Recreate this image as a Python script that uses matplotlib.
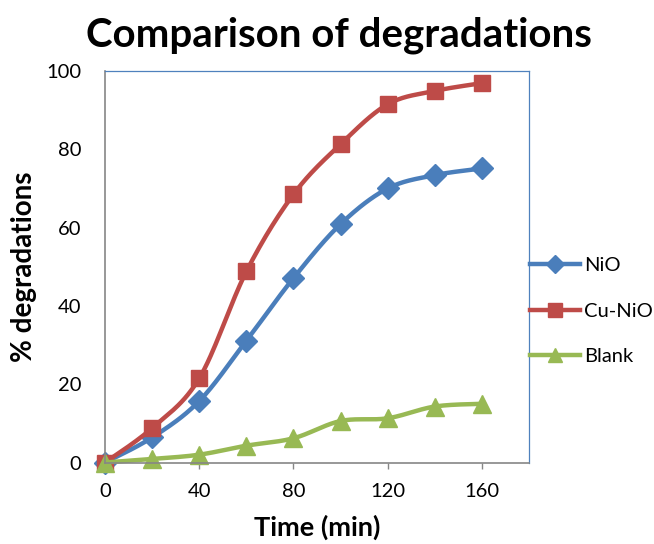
import numpy as np
import matplotlib
matplotlib.use('Agg')
import matplotlib.pyplot as plt

plt.rcParams['font.family'] = ['Lato', 'DejaVu Sans']

time_min = [0, 20, 40, 60, 80, 100, 120, 140, 160]
nio = [0, 6.4, 15.7, 31.1, 47.1, 60.9, 70.0, 73.4, 75.1]
cu_nio = [0, 8.8, 21.5, 48.8, 68.5, 81.3, 91.5, 94.9, 96.9]
blank = [0, 0.9, 2.0, 4.3, 6.2, 10.6, 11.3, 14.3, 15.0]
x_ticks = [0, 40, 80, 120, 160]
y_ticks = [0, 20, 40, 60, 80, 100]

BLUE = '#4A7EBB'
RED = '#BE4B48'
GREEN = '#98B954'
AXIS_GRAY = '#868686'


def smooth(xs, ys, sx, sy, steps=30):
    """Excel-like smoothed line (Catmull-Rom via Bezier), done in screen-ish units"""
    p = np.column_stack([np.asarray(xs, float) * sx, np.asarray(ys, float) * sy])
    n = len(p)
    out = []
    t = np.linspace(0, 1, steps)[:, None]
    for i in range(n - 1):
        p0 = p[i - 1] if i > 0 else p[i]
        p1 = p[i]
        p2 = p[i + 1]
        p3 = p[i + 2] if i + 2 < n else p[i + 1]
        c1 = p1 + (p2 - p0) / 6.0
        c2 = p2 - (p3 - p1) / 6.0
        seg = ((1 - t) ** 3) * p1 + 3 * ((1 - t) ** 2) * t * c1 + 3 * (1 - t) * t ** 2 * c2 + t ** 3 * p2
        out.append(seg if i == 0 else seg[1:])
    out = np.vstack(out)
    return out[:, 0] / sx, out[:, 1] / sy


fig = plt.figure(figsize=(6.54, 5.44), dpi=100)
ax = fig.add_axes([0.1606, 0.1498, 0.6483, 0.7197])

sx = 424.0 / 180
sy = 391.0 / 100
series = [
    ('NiO', nio, BLUE, 'D', 11),
    ('Cu-NiO', cu_nio, RED, 's', 12),
    ('Blank', blank, GREEN, '^', 13),
]
handles = []
for name, vals, col, mk, ms in series:
    xs, ys = smooth(time_min, vals, sx, sy)
    ax.plot(xs, ys, color=col, lw=3.2, solid_capstyle='round', clip_on=False)
    ax.plot(time_min, vals, ls='none', marker=mk, ms=ms, color=col, clip_on=False)
    h, = ax.plot([], [], color=col, lw=3.2, marker=mk, ms=ms * 0.8)
    handles.append(h)

ax.set_xlim(0, 180)
ax.set_ylim(0, 100)
ax.set_xticks(x_ticks)
ax.set_yticks(y_ticks)
ax.tick_params(axis='x', direction='out', length=4, width=1, color=AXIS_GRAY,
               labelsize=14.5, pad=11)
ax.tick_params(axis='y', length=0, labelsize=14.5, pad=17)

for side in ('left', 'bottom'):
    ax.spines[side].set_color(AXIS_GRAY)
    ax.spines[side].set_linewidth(1.2)
for side in ('top', 'right'):
    ax.spines[side].set_color('#4F81BD')
    ax.spines[side].set_linewidth(0.9)

fig.text(0.518, 0.935, 'Comparison of degradations', fontsize=29,
         fontweight='bold', ha='center', va='center')
ax.set_xlabel('Time (min)', fontsize=19.5, fontweight='bold', labelpad=10)
ax.set_ylabel('% degradations', fontsize=20, fontweight='bold', labelpad=7)

fig.legend(handles, [s[0] for s in series], loc='center left',
           bbox_to_anchor=(0.81, 0.428), frameon=False, fontsize=14.5,
           handlelength=2.5, handletextpad=0.2, labelspacing=1.4,
           borderpad=0, borderaxespad=0)

fig.savefig('out.png', dpi=100)
